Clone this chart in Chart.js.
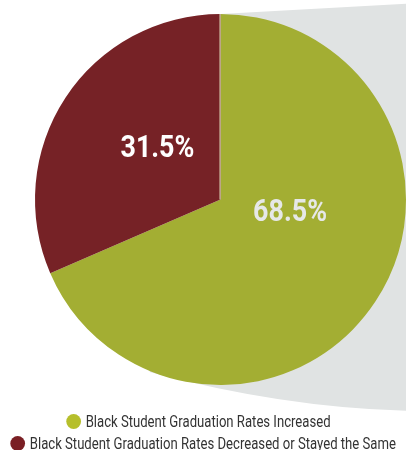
<!DOCTYPE html>
<html lang="en">

<head>
    <meta charset="UTF-8">
    <title>Black Student Graduation Rates</title>
    <style>
        body {
            margin: 0;
            background: #fff;
            font-family: Roboto, 'Liberation Sans', sans-serif;
        }

        .chart-box {
            position: relative;
            width: 406px;
            height: 412px;
        }

        .legend {
            width: 406px;
            margin-top: -2px;
            font-size: 16px;
            color: #333;
        }

        /* the original uses a condensed face; squeeze Roboto to match */
        .legend-row {
            display: flex;
            justify-content: center;
            align-items: center;
            height: 22px;
            white-space: nowrap;
            transform: scaleX(0.82);
            transform-origin: 203px 50%;
        }

        .legend-row:first-child {
            margin-left: -8px;
        }

        .legend-dot {
            width: 18px;
            height: 15px;
            border-radius: 50%;
            margin-right: 6px;
            flex: none;
        }
    </style>
    <script src="https://cdn.jsdelivr.net/npm/chart.js"></script>
</head>

<body>
    <div class="chart-box">
        <canvas id="pieChart"></canvas>
    </div>
    <div class="legend" id="legend"></div>

    <script>
        const categories = [
            "Black Student Graduation Rates Increased",
            "Black Student Graduation Rates Decreased or Stayed the Same"
        ];
        const shares = [68.5, 31.5];

        const sliceColors = ["#a3ae33", "#762226"];
        const legendColors = ["#b6bf2b", "#7a1f24"];

        // grey "shadow" behind the pie, drawn relative to the arc
        const shadowPlugin = {
            id: "shadow",
            beforeDatasetsDraw(chart) {
                const arc = chart.getDatasetMeta(0).data[0];
                const cx = arc.x, cy = arc.y, r = arc.outerRadius;
                const ctx = chart.ctx;
                ctx.save();
                ctx.fillStyle = "#e0e3e3";
                ctx.beginPath();
                ctx.moveTo(cx, cy - r);
                ctx.lineTo(cx + r + 30, cy - r - 12);
                ctx.lineTo(cx + r + 30, cy + r + 26);
                ctx.quadraticCurveTo(cx + 79, cy + r + 27, cx - 71, cy + r - 13);
                ctx.lineTo(cx, cy);
                ctx.closePath();
                ctx.fill();
                ctx.restore();
            }
        };

        // percentage labels + thin divider on the top radius
        const labelPlugin = {
            id: "pctLabels",
            afterDatasetsDraw(chart) {
                const arc = chart.getDatasetMeta(0).data[0];
                const cx = arc.x, cy = arc.y, r = arc.outerRadius;
                const ctx = chart.ctx;
                ctx.save();
                ctx.strokeStyle = "#dcd5b4";
                ctx.lineWidth = 1;
                ctx.beginPath();
                ctx.moveTo(cx - 0.5, cy);
                ctx.lineTo(cx - 0.5, cy - r);
                ctx.stroke();

                const spots = [[0.375, 0.1135], [-0.34, -0.227]];
                const colors = ["#e6e8e8", "#ffffff"];
                ctx.font = "bold 32px Roboto, sans-serif";
                ctx.textAlign = "center";
                ctx.textBaseline = "alphabetic";
                shares.forEach((v, i) => {
                    ctx.save();
                    ctx.translate(cx + spots[i][0] * r, cy + spots[i][1] * r);
                    ctx.scale(0.84, 1);
                    ctx.fillStyle = colors[i];
                    ctx.fillText(v.toFixed(1) + "%", 0, 0);
                    ctx.restore();
                });
                ctx.restore();
            }
        };

        new Chart(document.getElementById("pieChart"), {
            type: "pie",
            data: {
                labels: categories,
                datasets: [{
                    data: shares,
                    backgroundColor: sliceColors,
                    borderWidth: 0
                }]
            },
            options: {
                responsive: true,
                maintainAspectRatio: false,
                animation: false,
                layout: { padding: { left: 35, right: 0, top: 14, bottom: 27 } },
                plugins: {
                    legend: { display: false },
                    tooltip: { enabled: false }
                }
            },
            plugins: [shadowPlugin, labelPlugin]
        });

        document.getElementById("legend").innerHTML = categories.map((c, i) =>
            `<div class="legend-row"><span class="legend-dot" style="background:${legendColors[i]}"></span>${c}</div>`
        ).join("");
    </script>
</body>

</html>
